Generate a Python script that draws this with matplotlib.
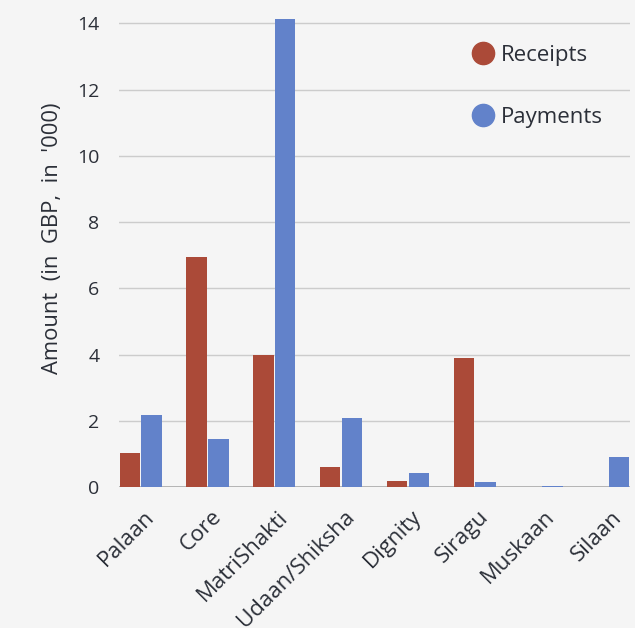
import matplotlib.pyplot as plt
import numpy as np
from matplotlib.lines import Line2D
from matplotlib.transforms import ScaledTranslation

categories = ['Palaan', 'Core', 'MatriShakti', 'Udaan/Shiksha', 'Dignity',
              'Siragu', 'Muskaan', 'Silaan']
receipts = [1.03, 6.93, 4.0, 0.6, 0.19, 3.9, 0.0, 0.0]
payments = [2.16, 1.46, 14.12, 2.07, 0.41, 0.16, 0.04, 0.9]
yticks = [0, 2, 4, 6, 8, 10, 12, 14]

red = '#ab4a38'
blue = '#6282ca'
bg = '#f5f5f5'
txt = '#2b2f38'

plt.rcParams['font.family'] = ['Open Sans', 'DejaVu Sans']

W, H = 635, 628
ppu = (487 - 23.3) / 14.0   # pixels per unit
ytop = 14.45
fig = plt.figure(figsize=(W / 100, H / 100), dpi=100, facecolor=bg)
ax = fig.add_axes([119 / W, 1 - 487 / H, 511 / W, ytop * ppu / H])
ax.set_facecolor(bg)

x = np.arange(len(categories))
w = 0.325
gap = 0.02
ax.bar(x - w / 2, receipts, w - gap, color=red, linewidth=0, zorder=3)
ax.bar(x + w / 2, payments, w - gap, color=blue, linewidth=0, zorder=3)

ax.set_xlim(-w, len(categories) - 1 + w)
ax.set_ylim(0, ytop)
ax.set_yticks(yticks)
ax.set_yticklabels([str(v) for v in yticks])
ax.grid(axis='y', color='#cccccc', linewidth=1, zorder=0)
ax.axhline(0, color='#aaaaaa', linewidth=1.2, zorder=2)
for s in ax.spines.values():
    s.set_visible(False)
ax.tick_params(axis='y', length=0, pad=14, labelsize=14, labelcolor=txt)
ax.tick_params(axis='x', length=0, pad=14, labelsize=16, labelcolor=txt)
ax.set_xticks(x)
ax.set_xticklabels(categories, rotation=45, ha='right', rotation_mode='anchor')
offset = ScaledTranslation(3 / 100, 0, fig.dpi_scale_trans)
for lbl in ax.get_xticklabels():
    lbl.set_transform(lbl.get_transform() + offset)
ax.set_ylabel("Amount  (in  GBP,  in  '000)", fontsize=15.8, color=txt)
ax.yaxis.set_label_coords(-0.11, (487 - 238) / (ytop * ppu))

handles = [Line2D([], [], marker='o', linestyle='', markersize=16, color=red),
           Line2D([], [], marker='o', linestyle='', markersize=16, color=blue)]
fig.legend(handles, ['Receipts', 'Payments'], loc='upper left',
           bbox_to_anchor=(470 / W, 1 - 45 / H), frameon=False, fontsize=16,
           labelcolor=txt, labelspacing=1.85, handletextpad=0.2, handlelength=1.2,
           borderpad=0, borderaxespad=0)

fig.savefig('out.png', dpi=100, facecolor=bg)
